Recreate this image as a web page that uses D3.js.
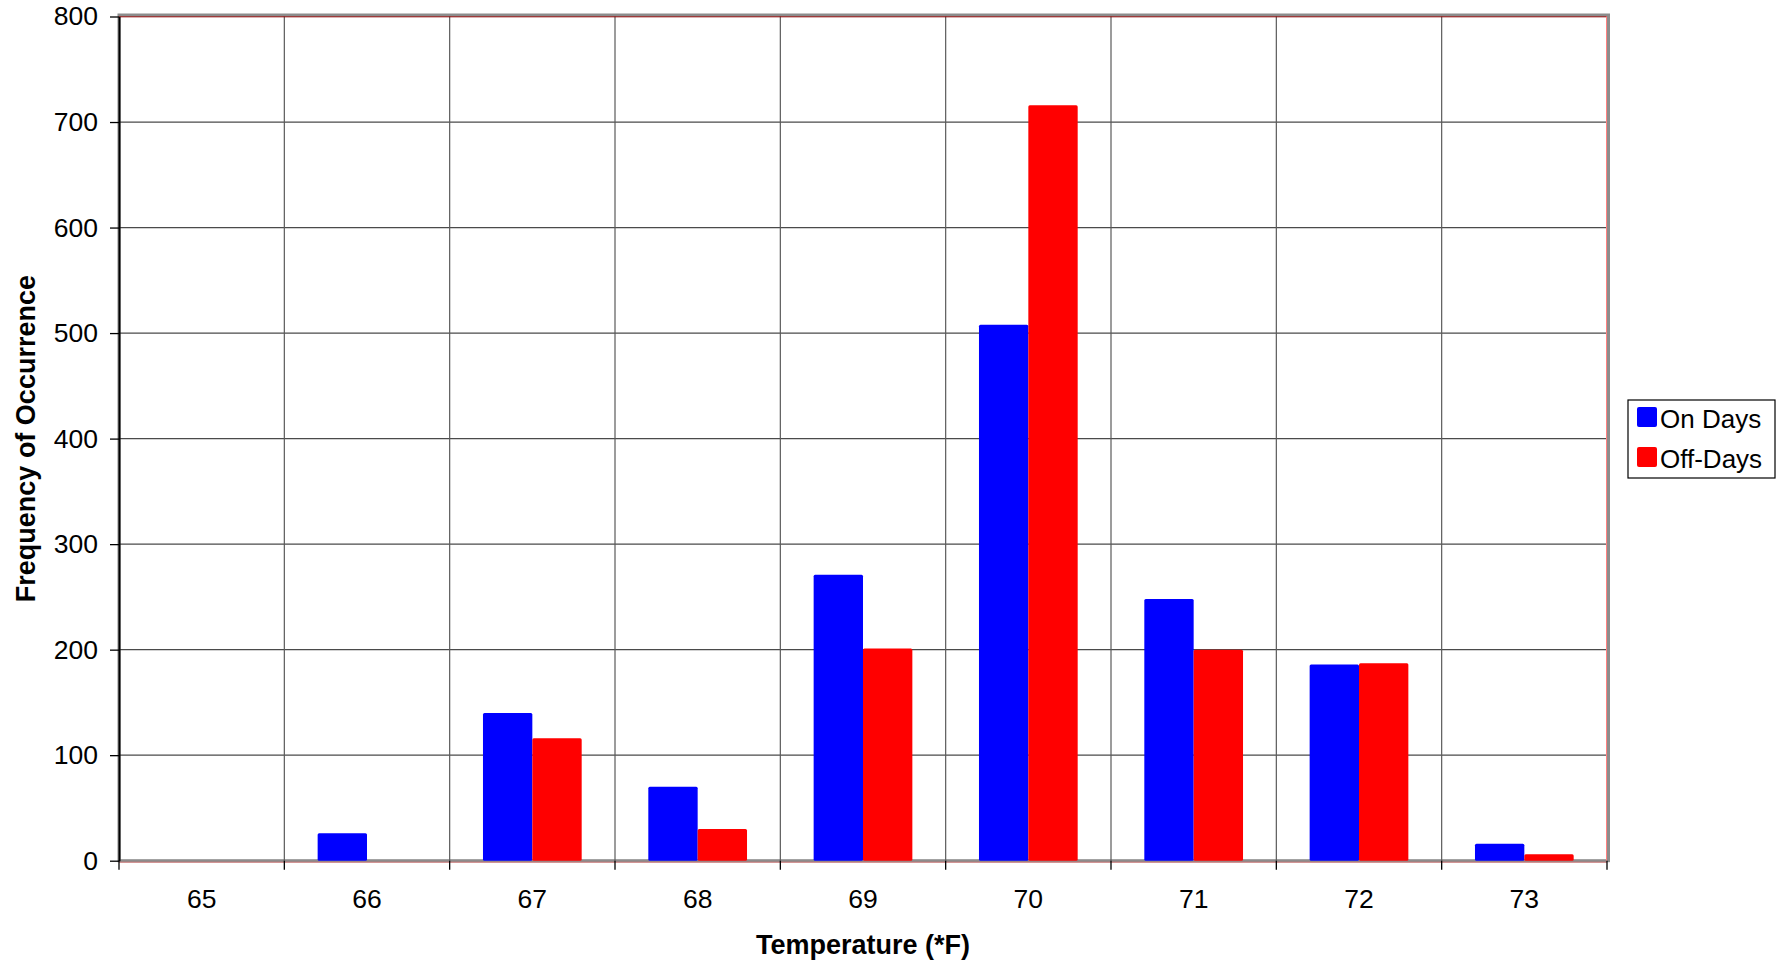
<!DOCTYPE html>
<html>
<head>
<meta charset="utf-8">
<script src="https://cdn.jsdelivr.net/npm/d3@7"></script>
<style>
  html, body { margin: 0; padding: 0; background: #ffffff; }
  svg { display: block; font-family: "Liberation Sans", Arial, sans-serif; }
</style>
</head>
<body>
<svg id="chart" width="1782" height="965"></svg>
<script>
// Temperature bins (°F)
const temperatures = ["65", "66", "67", "68", "69", "70", "71", "72", "73"];
// Series names and colours
const seriesNames = ["On Days", "Off-Days"];
const seriesColors = ["#0000ff", "#ff0000"];
// Frequency of occurrence per bin
const onDays  = [0, 26, 140, 70, 271, 508, 248, 186, 16];
const offDays = [0, 0, 116, 30, 201, 716, 200, 187, 6];
// Y-axis ticks
const yTicks = [0, 100, 200, 300, 400, 500, 600, 700, 800];

const svg = d3.select("#chart");
const margin = { left: 119, right: 175, top: 16.5, bottom: 104.3 };
const W = 1782, H = 965;
const x0 = margin.left, x1 = W - margin.right;
const y0 = H - margin.bottom, y1 = margin.top;

const x = d3.scaleBand().domain(temperatures).range([x0, x1]).paddingInner(0).paddingOuter(0);
const xs = d3.scaleBand().domain(seriesNames).range([0, x.bandwidth()]).paddingInner(0).paddingOuter(0.675);
const y = d3.scaleLinear().domain([0, 800]).range([y0, y1]);

const rows = temperatures.map((t, i) => ({ t, values: [onDays[i], offDays[i]] }));

// Plot area outer frame (grey)
svg.append("rect")
  .attr("x", x0).attr("y", y1 - 1.5)
  .attr("width", x1 - x0 + 1.5).attr("height", y0 - y1 + 1.5)
  .attr("fill", "#ffffff").attr("stroke", "#8c8c8c").attr("stroke-width", 3);

// Horizontal gridlines
svg.append("g").selectAll("line").data(yTicks.filter(d => d > 0 && d < 800)).join("line")
  .attr("x1", x0).attr("x2", x1)
  .attr("y1", d => y(d)).attr("y2", d => y(d))
  .attr("stroke", "#4a4a4a").attr("stroke-width", 1.2);

// Vertical gridlines at bin boundaries
svg.append("g").selectAll("line").data(temperatures.slice(1)).join("line")
  .attr("x1", d => x(d)).attr("x2", d => x(d))
  .attr("y1", y1).attr("y2", y0)
  .attr("stroke", "#5a5a5a").attr("stroke-width", 1.2);

// Bars
const groups = svg.append("g").selectAll("g").data(rows).join("g")
  .attr("transform", d => `translate(${x(d.t)},0)`);
groups.selectAll("rect")
  .data(d => d.values.map((v, k) => ({ v, k })).filter(e => e.v > 0))
  .join("rect")
  .attr("x", e => xs(seriesNames[e.k]))
  .attr("y", e => y(e.v))
  .attr("width", xs.bandwidth())
  .attr("height", e => y(0) - y(e.v))
  .attr("rx", 1.5)
  .attr("fill", e => seriesColors[e.k]);

// Coloured inner frame lines
svg.append("line").attr("x1", x0).attr("x2", x1).attr("y1", y1 + 0.3).attr("y2", y1 + 0.3)
  .attr("stroke", "#8b0000").attr("stroke-width", 1);
svg.append("line").attr("x1", x1 - 0.5).attr("x2", x1 - 0.5).attr("y1", y1).attr("y2", y0)
  .attr("stroke", "#ff8080").attr("stroke-width", 1);
svg.append("line").attr("x1", x0).attr("x2", x1).attr("y1", y0 + 1.5).attr("y2", y0 + 1.5)
  .attr("stroke", "#c87070").attr("stroke-width", 1);

// Y axis
const yAxis = svg.append("g")
  .attr("transform", `translate(${x0},0)`)
  .call(d3.axisLeft(y).tickValues(yTicks).tickSize(9).tickPadding(12).tickSizeOuter(0));
yAxis.select(".domain").attr("stroke", "#000").attr("stroke-width", 2);
yAxis.selectAll(".tick line").attr("stroke", "#000").attr("stroke-width", 1.3);
yAxis.selectAll(".tick text").attr("font-size", 26.5).attr("fill", "#000")
  .attr("font-family", "Liberation Sans, Arial, sans-serif");

// X axis
const xAxis = svg.append("g")
  .attr("transform", `translate(0,${y0})`)
  .call(d3.axisBottom(x).tickSize(0).tickPadding(28).tickSizeOuter(0));
xAxis.select(".domain").remove();
xAxis.selectAll(".tick text").attr("font-size", 26.5).attr("fill", "#000")
  .attr("font-family", "Liberation Sans, Arial, sans-serif");
// Tick marks at bin boundaries
svg.append("g").selectAll("line").data(temperatures.map(t => x(t)).concat([x1])).join("line")
  .attr("x1", d => d).attr("x2", d => d)
  .attr("y1", y0).attr("y2", y0 + 9)
  .attr("stroke", "#000").attr("stroke-width", 1.3);

// Axis titles
svg.append("text")
  .attr("x", (x0 + x1) / 2).attr("y", 954)
  .attr("text-anchor", "middle").attr("font-size", 27).attr("font-weight", "bold")
  .text("Temperature (*F)");
svg.append("text")
  .attr("transform", `translate(35,${(y0 + y1) / 2}) rotate(-90)`)
  .attr("text-anchor", "middle").attr("font-size", 27).attr("font-weight", "bold")
  .text("Frequency of Occurrence");

// Legend
const legend = svg.append("g").attr("transform", "translate(1628,400)");
legend.append("rect").attr("x", 0).attr("y", 0).attr("width", 147).attr("height", 78)
  .attr("fill", "#fff").attr("stroke", "#000").attr("stroke-width", 1.2);
const items = legend.selectAll("g").data(seriesNames).join("g")
  .attr("transform", (d, i) => `translate(0,${i * 40})`);
items.append("rect").attr("x", 9).attr("y", 7).attr("width", 20).attr("height", 20).attr("rx", 2)
  .attr("fill", (d, i) => seriesColors[i]);
items.append("text").attr("x", 32).attr("y", 28).attr("font-size", 26).attr("fill", "#000")
  .text(d => d);
</script>
</body>
</html>
